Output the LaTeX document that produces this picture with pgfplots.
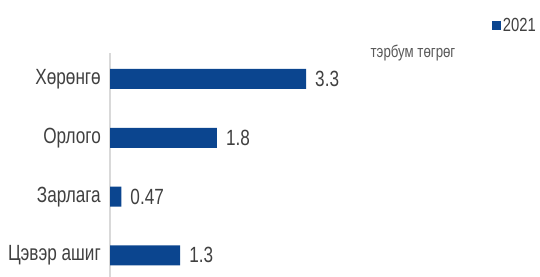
\documentclass[border=0pt]{standalone}
\usepackage{fontspec}
\setmainfont{Liberation Sans}[FakeStretch=0.78]
\usepackage{pgfplots}
\pgfplotsset{compat=1.18}
\usepackage{pgfplotstable}
\definecolor{barblue}{HTML}{0B458F}
\definecolor{txt}{HTML}{404040}
\definecolor{unittxt}{HTML}{595959}
\definecolor{axgray}{HTML}{D9D9D9}
\pgfplotstableread{
idx value label
3 3.30 3.3
2 1.80 1.8
1 0.19 0.47
0 1.18 1.3
}\datatable
\begin{document}
\begin{tikzpicture}
\begin{axis}[
  name=ax,
  at={(110bp,0bp)}, anchor=south west,
  scale only axis, width=420bp, height=224bp,
  xmin=0, xmax=7.07,
  ymin=-0.367, ymax=3.442,
  xbar, bar width=20bp,
  axis x line=none,
  axis y line*=left,
  y axis line style={-, draw=axgray, line width=2bp},
  ytick={0,1,2,3},
  yticklabels={Цэвэр ашиг,Зарлага,Орлого,Хөрөнгө},
  major tick length=0pt,
  yticklabel style={font=\fontsize{22bp}{25bp}\selectfont, text=txt, inner sep=0pt, anchor=east, xshift=-9bp},
  nodes near coords,
  point meta=explicit symbolic,
  nodes near coords style={font=\fontsize{22bp}{25bp}\selectfont, text=txt, anchor=west, inner sep=0pt, xshift=9bp},
  legend style={draw=none, fill=none, at={(1.019,1.165)}, anchor=north east, font=\fontsize{19bp}{21bp}\selectfont, text=txt, inner sep=0pt},
  legend image code/.code={\fill[barblue] (-3bp,-4.5bp) rectangle (6bp,4.5bp);},
  clip=false,
]
\addplot[fill=barblue, draw=none] table[x=value, y=idx, meta=label] {\datatable};
\addlegendentry{2021}
\end{axis}
\node[anchor=base, text=unittxt, font=\fontsize{17bp}{19bp}\selectfont, inner sep=0pt] at ([xshift=303bp, yshift=-5bp]ax.north west) {тэрбум төгрөг};
\pgfresetboundingbox
\useasboundingbox (0,0) rectangle (540bp,277bp);
\end{tikzpicture}
\end{document}
